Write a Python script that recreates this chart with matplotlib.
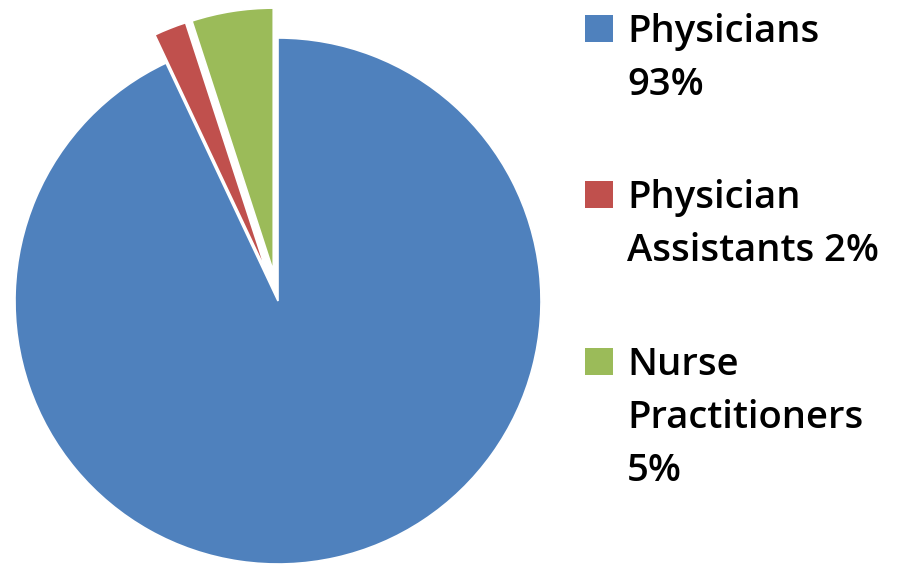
import matplotlib
matplotlib.use("Agg")
import matplotlib.pyplot as plt
from matplotlib.patches import Rectangle

# data
labels = ["Physicians\n93%", "Physician\nAssistants 2%", "Nurse\nPractitioners\n5%"]
values = [93, 2, 5]
colors = ["#4F81BD", "#C0504D", "#9BBB59"]
explode = [0, 0.115, 0.115]

W, H = 903, 565
fig = plt.figure(figsize=(W / 100, H / 100), dpi=100)
ax = fig.add_axes([0, 0, 1, 1])

# pie centre and radius in pixels
cx, cy, r = 278, 301, 263
ax.pie(values, colors=colors, explode=explode, startangle=90, counterclock=False,
       radius=1, center=(0, 0),
       wedgeprops=dict(edgecolor="white", linewidth=1.2))
ax.set_xlim(-cx / r, (W - cx) / r)
ax.set_ylim(-(H - cy) / r, cy / r)
ax.set_aspect("auto")
ax.axis("off")

# legend drawn by hand, positions in pixels from top-left
group_top = [42, 208, 375]
line_step = 53
for i, lab in enumerate(labels):
    b = group_top[i]
    fig.patches.append(Rectangle((585 / W, 1 - b / H), 28 / W, 27 / H,
                                 transform=fig.transFigure, facecolor=colors[i],
                                 edgecolor="none"))
    for k, line in enumerate(lab.split("\n")):
        fig.text(627 / W, 1 - (b + k * line_step) / H, line, fontsize=27.5,
                 family="Open Sans", weight="semibold", va="baseline", ha="left",
                 color="black")

fig.savefig("out.png", dpi=100)
